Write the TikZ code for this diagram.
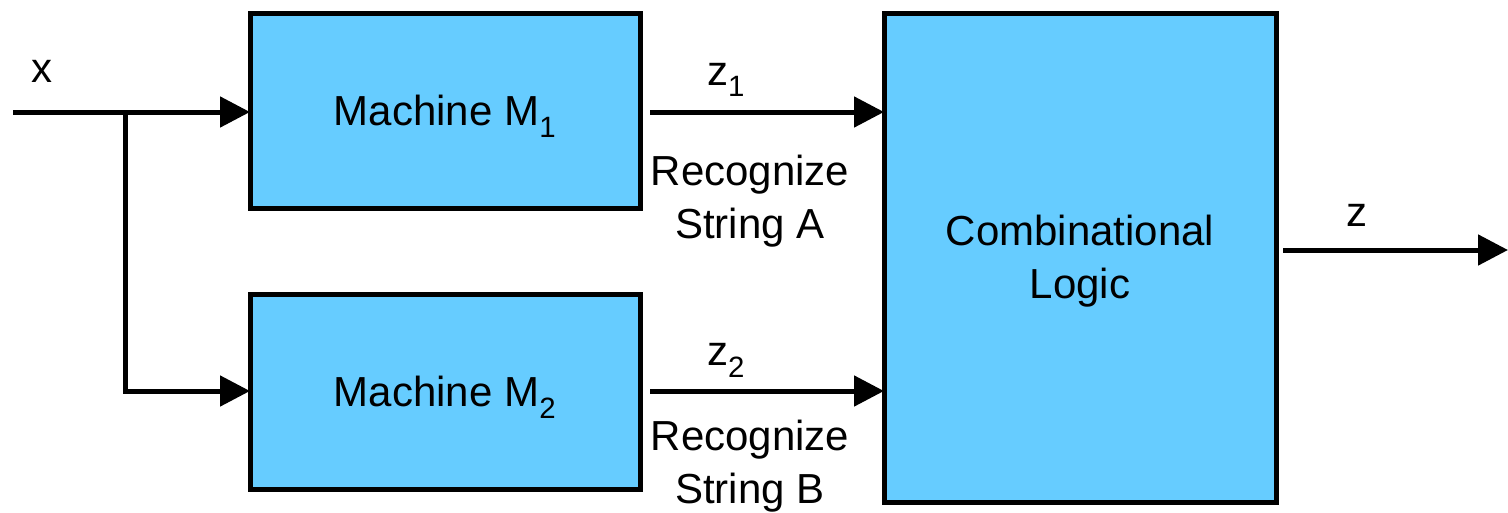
\documentclass[tikz,border=0pt]{standalone}
\usepackage{fontspec}
\setmainfont{Liberation Sans}
\usetikzlibrary{arrows.meta}
\definecolor{boxblue}{HTML}{66CCFF}
\tikzset{
  block/.style={draw=black, fill=boxblue, line width=5pt, outer sep=0pt, inner sep=0pt},
  wire/.style={line width=5pt, line join=miter},
  sig/.style={wire, -{Triangle[length=30pt,width=30pt]}},
  lbl/.style={font=\fontsize{42}{48}\selectfont, inner sep=0pt, align=center}
}
\begin{document}
\begin{tikzpicture}[x=1pt,y=-1pt]
\useasboundingbox (0,0) rectangle (1508,512);
% the two recognizer machines and the combinational block
\node[block, minimum width=390pt, minimum height=195pt] (m1) at (445,110.5) {};
\node[block, minimum width=390pt, minimum height=195pt] (m2) at (445,391.5) {};
\node[block, minimum width=392pt, minimum height=489pt] (cl) at (1080,257.5) {};
\node[lbl] (m1t) at ([yshift=-6pt]m1.center) {Machine M\textsubscript{1}};
\node[lbl] (m2t) at ([yshift=-6pt]m2.center) {Machine M\textsubscript{2}};
\node[lbl] (clt) at ([yshift=-4pt]cl.center) {Combinational\\[5pt]Logic};
% input x and its branch
\coordinate (xin) at (13,112);
\coordinate (br) at (125,112);
\coordinate (brd) at (125,391);
\draw[sig] (xin) -- (xin -| m1.west);
\draw[sig] (br) -- (brd) -- (brd -| m2.west);
% machine outputs
\coordinate (z1s) at (650,112);
\coordinate (z2s) at (650,391);
\draw[sig] (z1s) -- (z1s -| cl.west);
\draw[sig] (z2s) -- (z2s -| cl.west);
% final output
\coordinate (zs) at (1283,250);
\coordinate (ze) at (1508,250);
\draw[sig] (zs) -- (ze);
% labels
\node[lbl] (lx) at (42,71) {x};
\node[lbl] (lz1) at (726,80) {z\textsubscript{1}};
\node[lbl] (lz2) at (726,360) {z\textsubscript{2}};
\node[lbl] (lz) at (1357,215) {z};
\node[lbl] (ra) at (750,201) {Recognize\\[5pt]String A};
\node[lbl] (rb) at (750,466) {Recognize\\[5pt]String B};
\end{tikzpicture}
\end{document}
